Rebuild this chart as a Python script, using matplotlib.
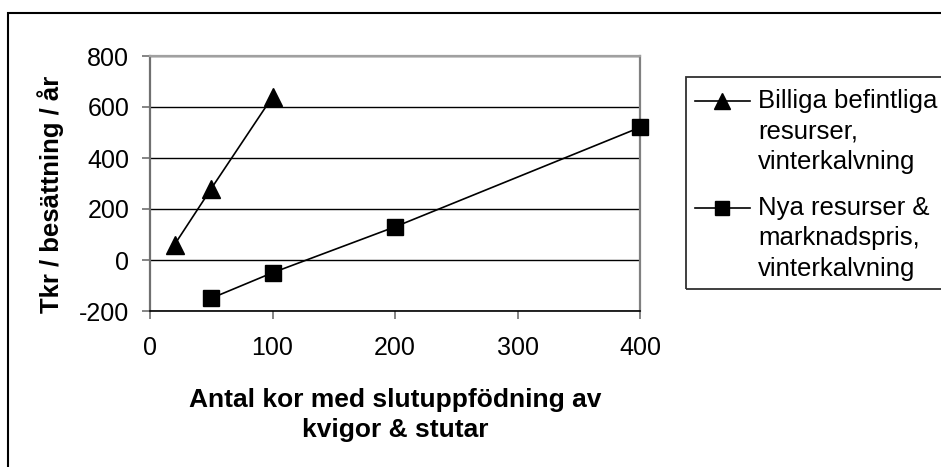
import matplotlib
matplotlib.use("Agg")
import matplotlib.pyplot as plt
from matplotlib.lines import Line2D
from matplotlib.patches import Rectangle

plt.rcParams['font.family'] = ['Liberation Sans', 'DejaVu Sans']
plt.rcParams['axes.unicode_minus'] = False

W, H = 941, 467

# data
cows_billiga = [20, 50, 100]
tkr_billiga = [60, 280, 640]
cows_nya = [50, 100, 200, 400]
tkr_nya = [-150, -50, 130, 520]

series_labels = [["Billiga befintliga", "resurser,", "vinterkalvning"],
                 ["Nya resurser &", "marknadspris,", "vinterkalvning"]]
series_markers = ['^', 's']
marker_sizes = [13, 11]
x_ticks = [0, 100, 200, 300, 400]
y_ticks = [-200, 0, 200, 400, 600, 800]
x_title = "Antal kor med slutuppfödning av\nkvigor & stutar"
y_title = "Tkr / besättning / år"


def fx(x):
    return x / W


def fy(y):
    return 1 - y / H


fig = plt.figure(figsize=(W / 100, H / 100), dpi=100)
ax = fig.add_axes([fx(150), fy(311), 490 / W, 255 / H])

ax.plot(cows_billiga, tkr_billiga, color='black', lw=1.2,
        marker=series_markers[0], ms=marker_sizes[0], clip_on=False, zorder=3)
ax.plot(cows_nya, tkr_nya, color='black', lw=1.2,
        marker=series_markers[1], ms=marker_sizes[1], clip_on=False, zorder=3)

ax.set_xlim(x_ticks[0], x_ticks[-1])
ax.set_ylim(y_ticks[0], y_ticks[-1])
ax.set_xticks(x_ticks)
ax.set_yticks(y_ticks)
ax.yaxis.grid(True, color='black', lw=1)
ax.set_axisbelow(True)

ax.tick_params(axis='both', direction='out', length=6, width=1.2,
               color='#707070', labelsize=18)
ax.tick_params(axis='x', pad=12)
ax.tick_params(axis='y', pad=9)

ax.spines['left'].set_color('#707070')
ax.spines['left'].set_linewidth(1.6)
ax.spines['bottom'].set_color('black')
ax.spines['bottom'].set_linewidth(1.2)
ax.spines['top'].set_color('#a0a0a0')
ax.spines['top'].set_linewidth(1.6)
ax.spines['right'].set_color('#808080')
ax.spines['right'].set_linewidth(1.6)

ax.set_xlabel(x_title, fontsize=19, fontweight='bold', va='center', linespacing=1.35)
ax.xaxis.set_label_coords(0.5, (311 - 415) / 255)
ax.set_ylabel(y_title, fontsize=18.5, fontweight='bold', va='center')
ax.yaxis.set_label_coords((51 - 150) / 490, (311 - 194) / 255)

# outer chart border (runs past the right / bottom edge like the source)
fig.patches.append(Rectangle((fx(8), fy(500)), fx(1000) - fx(8), fy(13) - fy(500),
                             transform=fig.transFigure, fill=False,
                             edgecolor='black', lw=1.5))

# legend box, also cut off on the right
fig.patches.append(Rectangle((fx(686), fy(289)), fx(1000) - fx(686), fy(77) - fy(289),
                             transform=fig.transFigure, fill=False,
                             edgecolor='#303030', lw=1.3))

first_rows = [101, 208]
for lines, marker, ms, y0 in zip(series_labels, series_markers, marker_sizes, first_rows):
    fig.add_artist(Line2D([fx(695), fx(722), fx(750)], [fy(y0)] * 3,
                          transform=fig.transFigure, color='black', lw=1.2,
                          marker=marker, markevery=[1], ms=ms - 1))
    for k, text in enumerate(lines):
        fig.text(fx(758), fy(y0 + k * 30.5), text, fontsize=18.5,
                 ha='left', va='center')

fig.savefig("out.png", dpi=100)
